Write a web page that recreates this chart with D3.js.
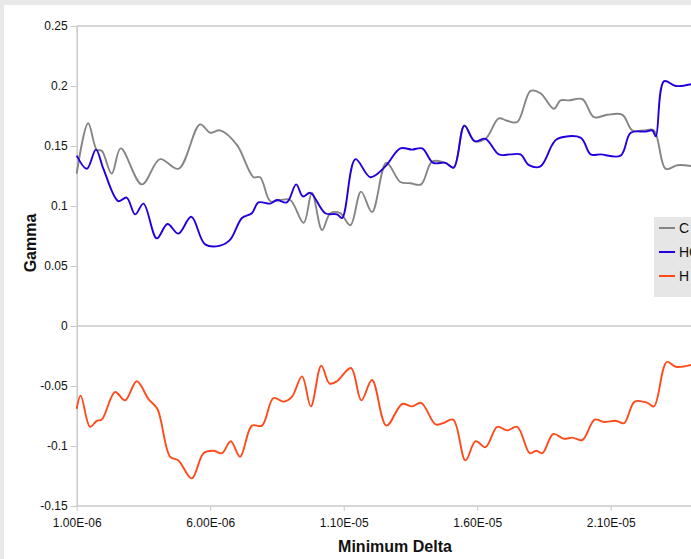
<!DOCTYPE html>
<html>
<head>
<meta charset="utf-8">
<script src="https://cdn.jsdelivr.net/npm/d3@7"></script>
<style>
  html, body { margin: 0; padding: 0; background: #e9e9e9; overflow: hidden; }
  svg { display: block; }
  text { font-family: "Liberation Sans", Arial, Helvetica, sans-serif; }
</style>
</head>
<body>
<script>
// Minimum Delta (in units of 1e-6) and Gamma for each series
const xC = [1.00, 1.43, 1.75, 1.94, 2.31, 2.65, 3.44, 4.12, 4.81, 5.62, 6.00, 6.37, 7.00, 7.62, 7.87,
  8.25, 8.62, 9.00, 9.50, 9.81, 10.19, 10.50, 10.87, 11.25, 11.65, 12.06, 12.60, 13.12, 13.50, 13.90,
  14.31, 14.81, 15.12, 15.52, 15.90, 16.31, 16.81, 17.12, 17.50, 18.00, 18.37, 18.87, 19.12, 19.44,
  19.94, 20.37, 20.87, 21.44, 21.81, 22.25, 22.62, 23.06, 23.50, 24.10];
const yC = [0.127, 0.169, 0.147, 0.146, 0.127, 0.148, 0.118, 0.139, 0.131, 0.168, 0.161, 0.163, 0.151, 0.124, 0.124,
  0.104, 0.105, 0.105, 0.086, 0.111, 0.080, 0.094, 0.094, 0.084, 0.112, 0.095, 0.136, 0.120, 0.119, 0.118,
  0.137, 0.136, 0.132, 0.167, 0.154, 0.156, 0.173, 0.171, 0.170, 0.196, 0.194, 0.181, 0.188, 0.188,
  0.189, 0.174, 0.176, 0.176, 0.163, 0.163, 0.163, 0.131, 0.134, 0.133];

const xHC = [1.00, 1.38, 1.72, 2.00, 2.56, 2.87, 3.19, 3.50, 4.00, 4.40, 4.81, 5.29, 5.81, 6.37, 6.75,
  7.19, 7.56, 7.81, 8.25, 8.50, 8.87, 9.22, 9.47, 9.75, 10.31, 10.75, 10.94, 11.44, 12.00, 12.56,
  13.12, 13.56, 13.94, 14.35, 14.81, 15.12, 15.52, 15.90, 16.31, 16.81, 17.25, 17.62, 17.94, 18.37,
  18.81, 19.00, 19.87, 20.25, 20.62, 21.37, 21.75, 22.31, 22.56, 22.69, 23.00, 23.44, 24.10];
const yHC = [0.142, 0.131, 0.147, 0.131, 0.104, 0.107, 0.093, 0.102, 0.073, 0.085, 0.077, 0.091, 0.068, 0.067, 0.072,
  0.090, 0.094, 0.103, 0.102, 0.105, 0.103, 0.118, 0.108, 0.111, 0.094, 0.093, 0.090, 0.139, 0.124, 0.133,
  0.148, 0.147, 0.148, 0.136, 0.136, 0.132, 0.167, 0.154, 0.156, 0.143, 0.143, 0.143, 0.134, 0.133,
  0.151, 0.156, 0.157, 0.143, 0.143, 0.142, 0.161, 0.162, 0.163, 0.158, 0.204, 0.200, 0.202];

const xH = [1.00, 1.15, 1.50, 1.75, 1.94, 2.44, 2.81, 3.25, 3.69, 4.02, 4.50, 4.81, 5.31, 5.75, 6.12,
  6.44, 6.77, 7.12, 7.56, 7.94, 8.37, 8.75, 9.06, 9.44, 9.77, 10.16, 10.47, 10.75, 11.27, 11.66,
  12.06, 12.60, 13.19, 13.56, 13.90, 14.44, 14.72, 15.10, 15.56, 15.94, 16.31, 16.75, 17.12, 17.50,
  17.97, 18.22, 18.44, 18.85, 19.25, 19.56, 19.94, 20.40, 20.75, 21.19, 21.50, 21.90, 22.37, 22.62,
  23.10, 23.44, 24.10];
const yH = [-0.069, -0.058, -0.084, -0.079, -0.078, -0.055, -0.062, -0.046, -0.061, -0.069, -0.109, -0.112, -0.127, -0.106, -0.104,
  -0.106, -0.096, -0.109, -0.083, -0.083, -0.060, -0.063, -0.059, -0.042, -0.067, -0.033, -0.048, -0.046, -0.035, -0.062,
  -0.045, -0.083, -0.065, -0.067, -0.064, -0.082, -0.081, -0.078, -0.112, -0.096, -0.101, -0.084, -0.087, -0.084,
  -0.106, -0.104, -0.106, -0.090, -0.094, -0.093, -0.095, -0.078, -0.080, -0.079, -0.081, -0.063, -0.064, -0.067,
  -0.030, -0.034, -0.032];

const seriesNames = ["C", "HC", "H"];
const seriesColors = ["#858585", "#2200dd", "#ff4a1c"];
const xTickValues = [1e-6, 6e-6, 1.1e-5, 1.6e-5, 2.1e-5];
const xTickLabels = ["1.00E-06", "6.00E-06", "1.10E-05", "1.60E-05", "2.10E-05"];
const yTickValues = [-0.15, -0.1, -0.05, 0, 0.05, 0.1, 0.15, 0.2, 0.25];
const yTickLabels = ["-0.15", "-0.1", "-0.05", "0", "0.05", "0.1", "0.15", "0.2", "0.25"];

const UNIT = 1e-6;
const W = 760, H = 559;
const margin = { left: 76.7, top: 26, bottom: 53 };
const plotRight = 740;

const svg = d3.select("body").append("svg").attr("width", W).attr("height", H);

// white panel over the grey page
svg.append("rect").attr("x", 4).attr("y", 5).attr("width", W).attr("height", H).attr("fill", "#ffffff");

const x = d3.scaleLinear().domain([1e-6, 2.1e-5]).range([margin.left, 610.7]);
const y = d3.scaleLinear().domain([-0.15, 0.25]).range([H - margin.bottom, margin.top]);

const axisColor = "#c9c9c9";

// Y axis
const yAxis = d3.axisLeft(y).tickValues(yTickValues)
  .tickFormat((d, i) => yTickLabels[i]).tickSize(6).tickSizeOuter(0).tickPadding(3);
const gy = svg.append("g").attr("transform", `translate(${margin.left},0)`).call(yAxis);
gy.select(".domain").attr("stroke", axisColor).attr("stroke-width", 1.5);
gy.selectAll(".tick line").attr("stroke", axisColor);
gy.selectAll(".tick text").attr("font-size", 12).attr("fill", "#111");

// X axis
const xAxis = d3.axisBottom(x).tickValues(xTickValues)
  .tickFormat((d, i) => xTickLabels[i]).tickSize(5).tickSizeOuter(0).tickPadding(7);
const gx = svg.append("g").attr("transform", `translate(0,${y(-0.15)})`).call(xAxis);
gx.select(".domain").attr("d", `M${margin.left},0H${plotRight}`)
  .attr("stroke", axisColor).attr("stroke-width", 1.5);
gx.selectAll(".tick line").attr("stroke", axisColor);
gx.selectAll(".tick text").attr("font-size", 12).attr("fill", "#111");

// top border and zero line
[0.25, 0].forEach(v => {
  svg.append("line").attr("x1", margin.left).attr("x2", plotRight)
    .attr("y1", y(v)).attr("y2", y(v))
    .attr("stroke", axisColor).attr("stroke-width", 1.5);
});

// series, drawn as smooth splines through the sampled points
const xs = [xC, xHC, xH], ys = [yC, yHC, yH];
const line = d3.line().x(d => x(d[0] * UNIT)).y(d => y(d[1])).curve(d3.curveCatmullRom.alpha(0.5));
xs.forEach((xv, s) => {
  const pts = xv.map((v, i) => [v, ys[s][i]]);
  svg.append("path").datum(pts).attr("d", line)
    .attr("fill", "none").attr("stroke", seriesColors[s]).attr("stroke-width", 1.9)
    .attr("stroke-linejoin", "round");
});

// axis titles
svg.append("text").attr("x", 395).attr("y", 552).attr("text-anchor", "middle")
  .attr("font-size", 16).attr("font-weight", "bold").attr("fill", "#111").text("Minimum Delta");
svg.append("text").attr("transform", "translate(36,243) rotate(-90)").attr("text-anchor", "middle")
  .attr("font-size", 16).attr("font-weight", "bold").attr("fill", "#111").text("Gamma");

// legend
const lg = svg.append("g").attr("transform", "translate(654,217)");
lg.append("rect").attr("width", 90).attr("height", 80).attr("fill", "#e6e6e6");
seriesNames.forEach((name, i) => {
  const yy = 11 + i * 24;
  lg.append("line").attr("x1", 5).attr("x2", 21).attr("y1", yy).attr("y2", yy)
    .attr("stroke", seriesColors[i]).attr("stroke-width", 2);
  lg.append("text").attr("x", 25).attr("y", yy + 5).attr("font-size", 14).attr("fill", "#111").text(name);
});
</script>
</body>
</html>
